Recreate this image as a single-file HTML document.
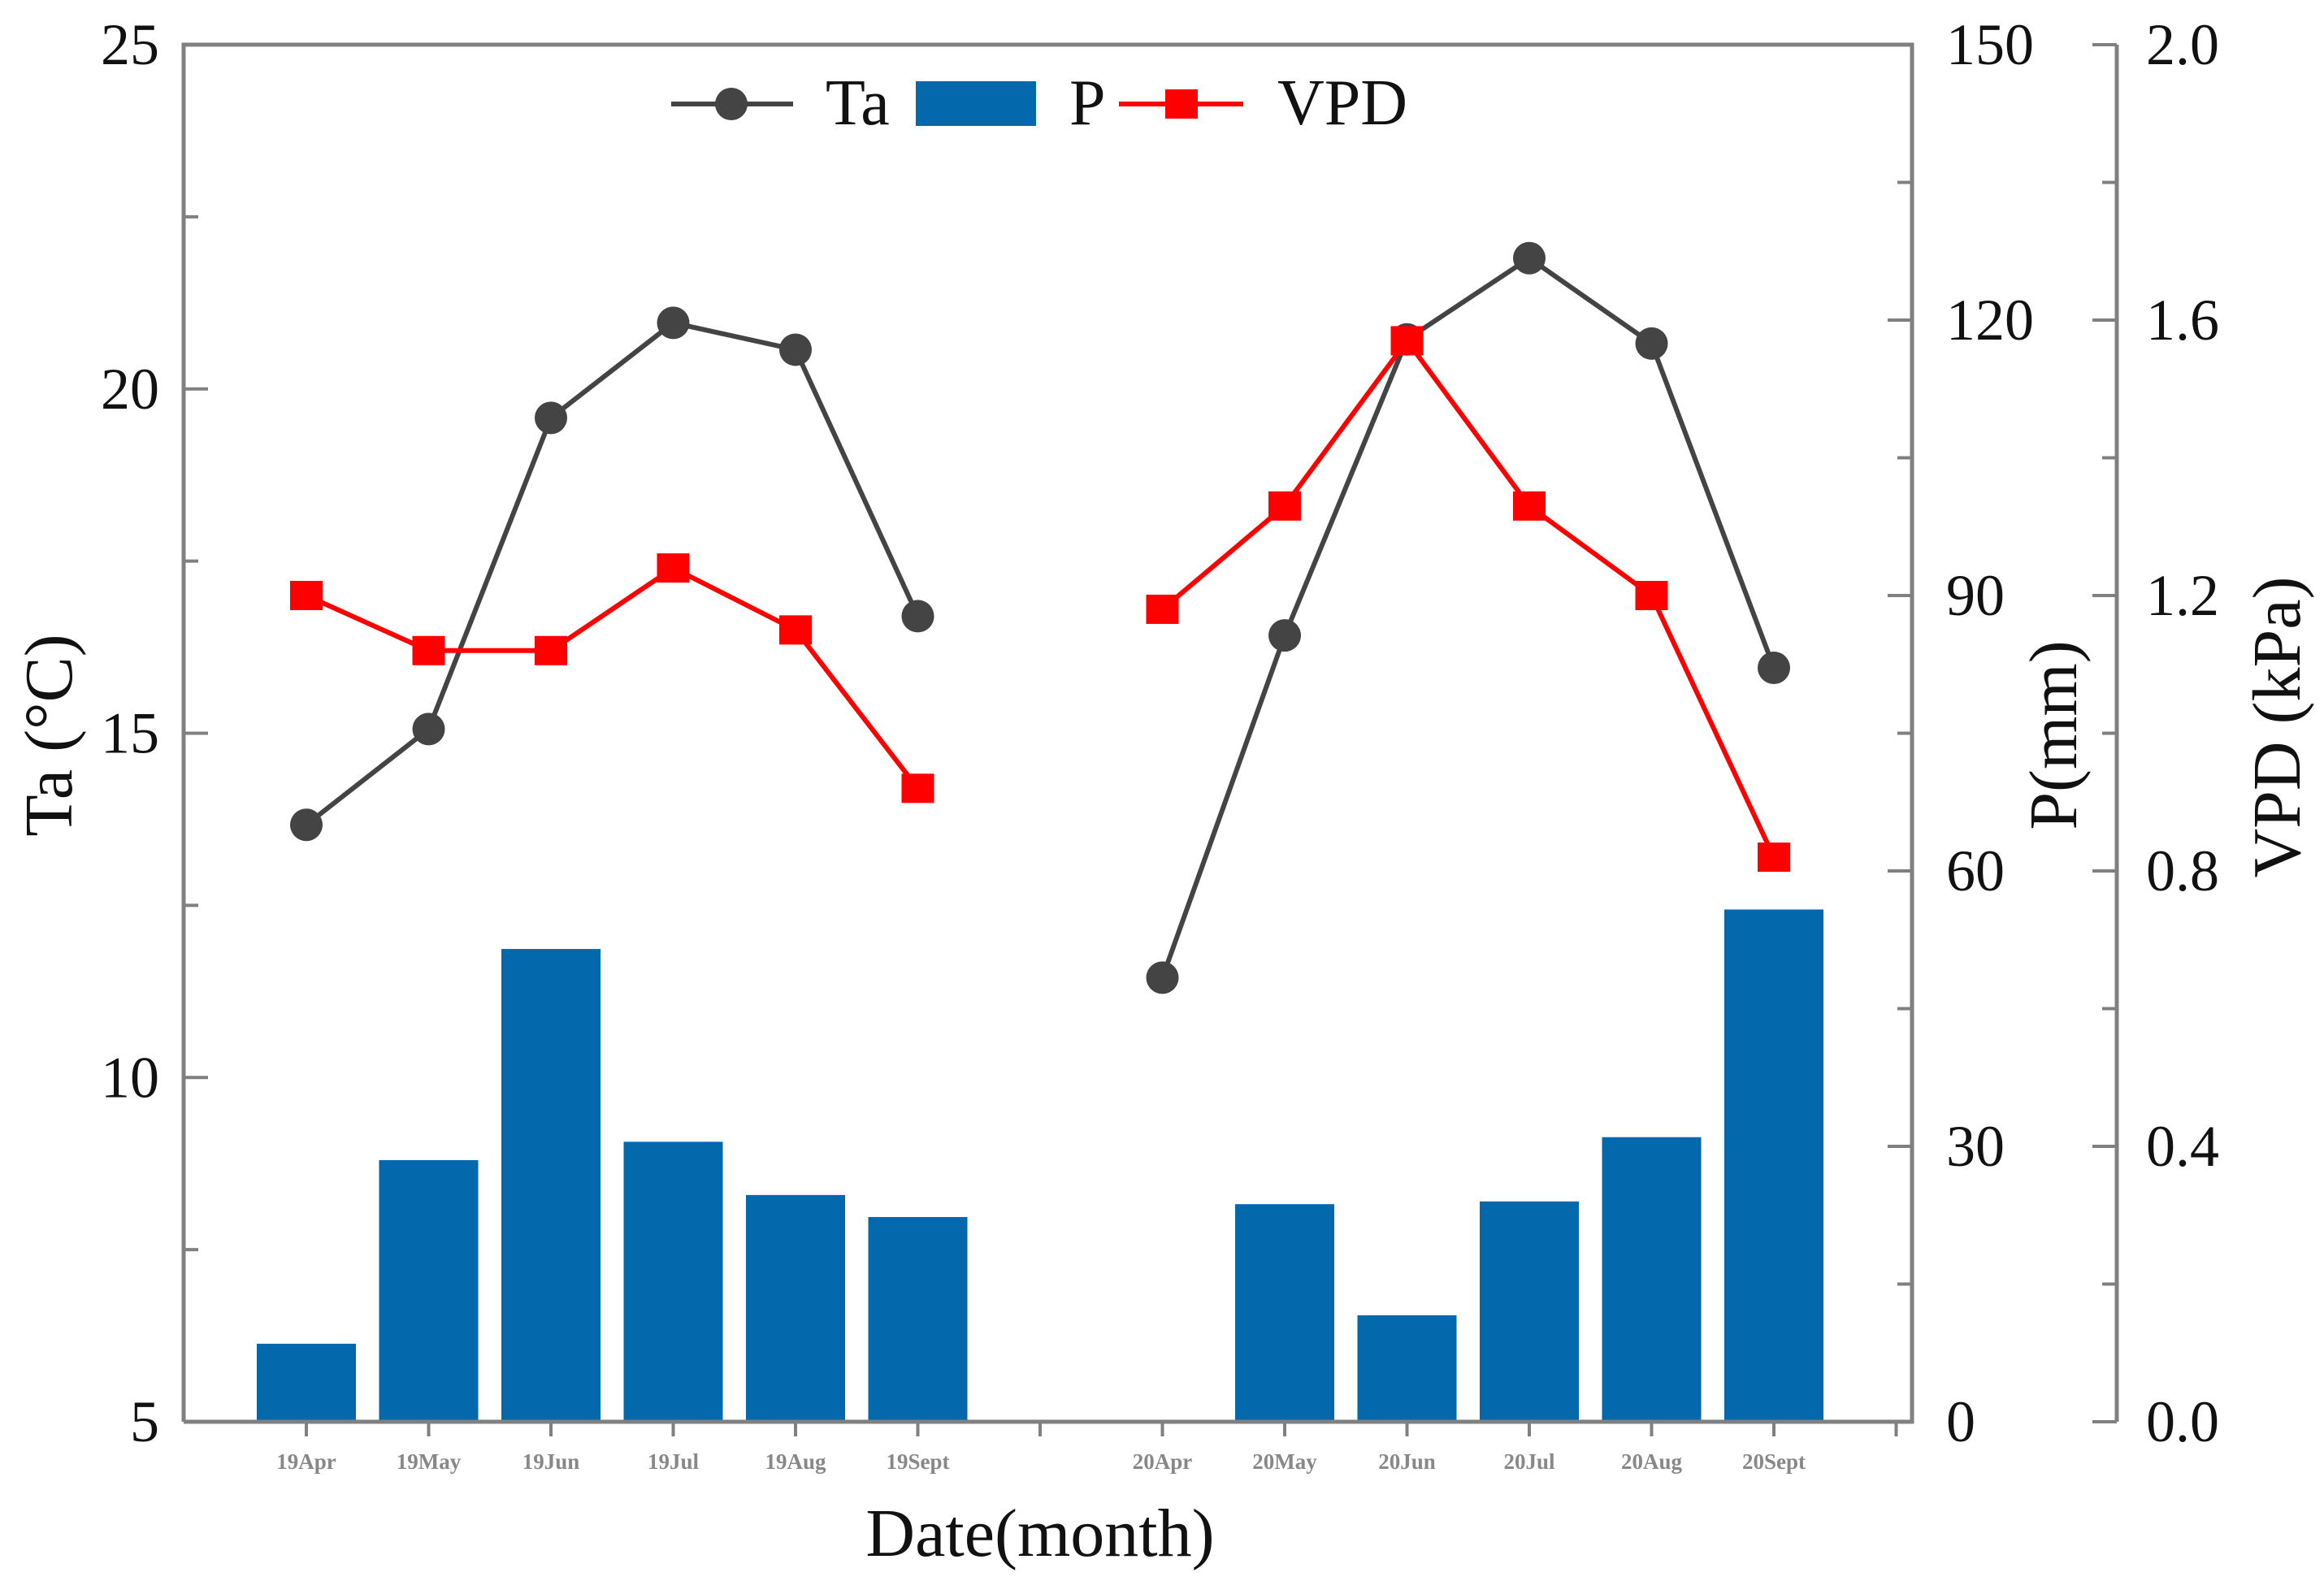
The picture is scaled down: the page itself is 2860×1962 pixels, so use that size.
<!DOCTYPE html>
<html><head><meta charset="utf-8"><style>
body{margin:0;background:#fff}
svg text{font-family:"Liberation Serif",serif}
</style></head><body>
<svg id="chart" width="2860" height="1957" xmlns="http://www.w3.org/2000/svg">
<g id="g"></g>
</svg>
<script>
const categories=["19Apr","19May","19Jun","19Jul","19Aug","19Sept","","20Apr","20May","20Jun","20Jul","20Aug","20Sept"];
const taValues=[13.67,15.06,19.58,20.96,20.57,16.70,null,11.45,16.42,20.72,21.90,20.66,15.95];
const pValues=[8.5,28.5,51.5,30.5,24.7,22.3,null,0,23.7,11.6,24,31,55.8];
const vpdValues=[1.20,1.12,1.12,1.24,1.15,0.92,null,1.18,1.33,1.57,1.33,1.20,0.82];
const taTicks=[5,10,15,20,25];
const pTicks=[0,30,60,90,120,150];
const vpdTicks=["0.0","0.4","0.8","1.2","1.6","2.0"];

const NS="http://www.w3.org/2000/svg";
const g=document.getElementById('g');
function mk(t,a,txt){const e=document.createElementNS(NS,t);for(const k in a)e.setAttribute(k,a[k]);if(txt!=null)e.textContent=txt;g.appendChild(e);return e;}
const L=226,R=2353,T=55,B=1750,VX=2605;
const x=i=>377+i*150.5;
const yTa=v=>B-(v-5)/20*(B-T);
const yP=v=>B-v/150*(B-T);
const yV=v=>B-v/2*(B-T);
const ax="#808080";

pValues.forEach((v,i)=>{if(v==null||v<=0)return;
 const r=mk('rect',{x:x(i)-61,y:yP(v),width:122,height:B-yP(v),fill:"#0468ac"});
 
 });

let e=mk('path',{d:`M${L},${B}V${T}H${R}V${B}H${L}`,fill:"none",stroke:ax,"stroke-width":5});

e=mk('line',{x1:VX,y1:T,x2:VX,y2:B,stroke:ax,"stroke-width":5});


for(let v=5;v<=25;v+=2.5){mk('line',{x1:L,x2:L+(v%5==0?30:18),y1:yTa(v),y2:yTa(v),stroke:ax,"stroke-width":4});}
taTicks.forEach(v=>{const t=mk('text',{x:L-30,y:yTa(v)+24,"font-size":72,"text-anchor":"end",fill:"#111"},v);
 });
for(let v=0;v<=150;v+=15){mk('line',{x1:R,x2:R-(v%30==0?30:18),y1:yP(v),y2:yP(v),stroke:ax,"stroke-width":4});}
pTicks.forEach(v=>{const t=mk('text',{x:2395,y:yP(v)+24,"font-size":72,fill:"#111"},v);
 });
for(let k=0;k<=10;k++){const v=k*0.2;mk('line',{x1:VX,x2:VX-(k%2==0?30:18),y1:yV(v),y2:yV(v),stroke:ax,"stroke-width":4});}
vpdTicks.forEach(s=>{const t=mk('text',{x:2641,y:yV(+s)+24,"font-size":72,fill:"#111"},s);
 });
for(let i=0;i<=13;i++){mk('line',{x1:x(i),x2:x(i),y1:B,y2:B+18,stroke:ax,"stroke-width":4});}
categories.forEach((c,i)=>{if(!c)return;const t=mk('text',{x:x(i),y:1808,"font-size":27,"font-weight":"bold","text-anchor":"middle",fill:"#888"},c);
 });

function series(vals,yf,col,name,marker){
 let segs=[],cur=[];
 vals.forEach((v,i)=>{if(v==null){if(cur.length)segs.push(cur);cur=[];}else cur.push([x(i),yf(v)]);});
 if(cur.length)segs.push(cur);
 segs.forEach(s=>{const p=mk('polyline',{points:s.map(q=>q.join(',')).join(' '),fill:"none",stroke:col,"stroke-width":6});
  });
 vals.forEach((v,i)=>{if(v==null)return;let m;
  if(marker=='c')m=mk('circle',{cx:x(i),cy:yf(v),r:20,fill:"#444"});
  else m=mk('rect',{x:x(i)-20,y:yf(v)-18,width:40,height:36,fill:"#f00"});
  
  });
}
series(taValues,yTa,"#444","ta",'c');
series(vpdValues,yV,"#f00","vpd",'s');

e=mk('line',{x1:826,x2:976,y1:128,y2:128,stroke:"#444","stroke-width":6});
e=mk('circle',{cx:900,cy:128,r:20,fill:"#444"});
e=mk('text',{x:1016,y:153,"font-size":80,fill:"#111"},"Ta");
e=mk('rect',{x:1127,y:100,width:148,height:55,fill:"#0468ac"});
e=mk('text',{x:1316,y:153,"font-size":80,fill:"#111"},"P");
e=mk('line',{x1:1377,x2:1530,y1:128,y2:128,stroke:"#f00","stroke-width":6});
e=mk('rect',{x:1434,y:110,width:40,height:36,fill:"#f00"});
e=mk('text',{x:1572,y:153,"font-size":80,fill:"#111"},"VPD");

e=mk('text',{x:1280,y:1915,"font-size":84,"text-anchor":"middle",fill:"#111"},"Date(month)");
e=mk('text',{x:0,y:0,"font-size":84,"text-anchor":"middle",fill:"#111",transform:"translate(88,905) rotate(-90)"},"Ta (°C)");
e=mk('text',{x:0,y:0,"font-size":84,"text-anchor":"middle",fill:"#111",transform:"translate(2555,905) rotate(-90)"},"P(mm)");
e=mk('text',{x:0,y:0,"font-size":84,"text-anchor":"middle",fill:"#111",transform:"translate(2830,895) rotate(-90)"},"VPD (kPa)");
</script>
</body></html>
